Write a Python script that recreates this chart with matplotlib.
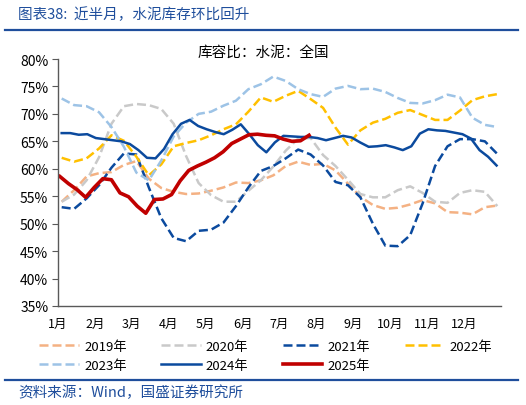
import numpy as np
import matplotlib
matplotlib.use('Agg')
import matplotlib.pyplot as plt
from matplotlib.lines import Line2D

plt.rcParams['font.family'] = ['Noto Sans CJK SC', 'DejaVu Sans']

months = ['1月', '2月', '3月', '4月', '5月', '6月', '7月', '8月', '9月', '10月', '11月', '12月']
y_ticks = [35, 40, 45, 50, 55, 60, 65, 70, 75, 80]

# position of each reading in months from 1 Jan (about one per 10 days / per week)
x_year = np.linspace(0.1, 11.9, 36)
x_2024 = np.linspace(0.1, 11.88, 52)
x_2025 = np.linspace(0.05, 6.8, 30)

# cement storage ratio, %
v2019 = [54.0, 56.1, 58.6, 59.2, 59.4, 60.7, 61.4, 58.2, 56.5, 55.8, 55.4, 55.5,
         56.0, 56.6, 57.5, 57.4, 57.9, 58.8, 60.5, 61.3, 60.7, 60.9, 59.7, 57.3,
         54.9, 53.4, 52.7, 52.9, 53.5, 54.3, 53.7, 52.1, 52.0, 51.7, 53.0, 53.3]
v2020 = [54.0, 55.3, 57.9, 62.1, 68.2, 71.4, 71.8, 71.6, 70.9, 68.2, 62.3, 57.4,
         55.2, 54.0, 54.0, 56.0, 57.9, 60.4, 63.3, 65.5, 65.6, 62.5, 60.5, 58.0,
         55.4, 54.8, 54.8, 56.1, 56.8, 55.6, 54.0, 53.8, 55.6, 56.1, 55.8, 53.2]
v2021 = [53.0, 52.7, 54.6, 57.0, 60.2, 62.8, 62.6, 56.6, 51.0, 47.4, 46.8, 48.7,
         48.9, 50.2, 53.2, 56.6, 59.6, 60.5, 61.9, 63.5, 62.6, 60.6, 57.6, 57.0,
         54.8, 50.0, 46.0, 45.9, 47.9, 53.7, 60.5, 64.1, 65.4, 65.4, 65.0, 62.7]
v2022 = [62.0, 61.3, 61.9, 63.7, 66.1, 65.1, 62.2, 58.8, 60.8, 64.1, 64.7, 65.2,
         66.1, 67.2, 68.1, 70.4, 73.0, 72.2, 73.3, 74.2, 72.7, 71.1, 67.5, 64.4,
         67.0, 68.4, 69.1, 70.2, 70.7, 69.8, 68.9, 68.9, 70.6, 72.5, 73.2, 73.6]
v2023 = [72.8, 71.6, 71.4, 70.3, 67.6, 64.0, 59.3, 57.9, 61.5, 65.9, 68.4, 70.0,
         70.4, 71.5, 72.4, 74.5, 75.4, 76.8, 76.0, 74.5, 73.6, 73.1, 74.6, 75.1,
         74.5, 74.6, 74.0, 72.9, 72.0, 71.9, 72.5, 73.5, 73.0, 69.3, 68.0, 67.6]
v2024 = [66.5, 66.5, 66.2, 66.3, 65.6, 65.4, 65.2, 65.0, 64.5, 63.4, 62.0, 61.9,
         63.6, 66.3, 68.2, 68.9, 67.8, 67.2, 66.7, 66.3, 67.1, 68.1, 66.3, 64.3,
         63.0, 64.8, 66.0, 65.9, 65.8, 65.8, 65.6, 65.2, 65.6, 66.0, 65.7, 64.8,
         64.0, 64.1, 64.3, 63.9, 63.4, 64.1, 66.4, 67.2, 67.0, 66.9, 66.6, 66.3,
         65.5, 63.4, 62.2, 60.6]
v2025 = [58.6, 57.3, 56.2, 54.8, 56.6, 58.2, 58.0, 55.6, 54.9, 53.2, 51.9, 54.4,
         54.5, 55.3, 57.8, 59.7, 60.5, 61.2, 62.0, 63.1, 64.6, 65.4, 66.2, 66.3,
         66.1, 66.0, 65.4, 65.0, 65.1, 66.1]

blue = '#1F4E9C'
dash = (0, (3.6, 1.6))

fig = plt.figure(figsize=(5.26, 4.06), dpi=100)
ax = fig.add_axes([58 / 526, 1 - 307 / 406, 443 / 526, 247 / 406])

series = [
    ('2019年', x_year, v2019, '#F4B183', 1.8, dash),
    ('2020年', x_year, v2020, '#C9C9C9', 1.8, dash),
    ('2021年', x_year, v2021, '#0B4A9E', 1.8, dash),
    ('2022年', x_year, v2022, '#FFC000', 1.8, dash),
    ('2023年', x_year, v2023, '#9DC3E6', 1.8, dash),
    ('2024年', x_2024, v2024, '#0B4A9E', 1.8, '-'),
    ('2025年', x_2025, v2025, '#C00000', 2.6, '-'),
]
handles = {}
for name, xs, vs, color, lw, ls in series:
    line, = ax.plot(xs, vs, color=color, lw=lw, linestyle=ls, label=name)
    handles[name] = line

ax.set_xlim(0, 12)
ax.set_ylim(35, 80)
ax.set_xticks(range(12))
ax.set_xticklabels(months, fontsize=9)
ax.set_yticks(y_ticks)
ax.set_yticklabels([f'{t}%' for t in y_ticks], fontsize=10)
ax.tick_params(axis='x', length=0, pad=8)
ax.tick_params(axis='y', length=4, direction='out', color='#595959', pad=3)
for side in ['top', 'right']:
    ax.spines[side].set_visible(False)
for side in ['left', 'bottom']:
    ax.spines[side].set_color('#595959')
    ax.spines[side].set_linewidth(1.0)

fig.text(0.5, 1 - 53 / 406, '库容比：水泥：全国', ha='center', va='center', fontsize=10.5)

# legend row-major: reorder for matplotlib's column-major fill
order = ['2019年', '2023年', '2020年', '2024年', '2021年', '2025年', '2022年']
fig.legend([handles[n] for n in order], order, loc='center',
           bbox_to_anchor=(0.505, 1 - 357 / 406), ncol=4, frameon=False,
           fontsize=9.5, handlelength=3.0, handletextpad=0.4,
           columnspacing=2.6, labelspacing=0.45)

fig.text(18 / 526, 1 - 15 / 406, '图表38:  近半月，水泥库存环比回升', color=blue,
         fontsize=10.5, va='center', ha='left')
fig.text(18 / 526, 1 - 393 / 406, '资料来源：Wind，国盛证券研究所', color=blue,
         fontsize=10.5, va='center', ha='left')
for y in [31, 381]:
    fig.add_artist(Line2D([5 / 526, 518 / 526], [1 - y / 406, 1 - y / 406],
                          transform=fig.transFigure, color=blue, lw=1.6))

fig.savefig('out.png', dpi=100)
